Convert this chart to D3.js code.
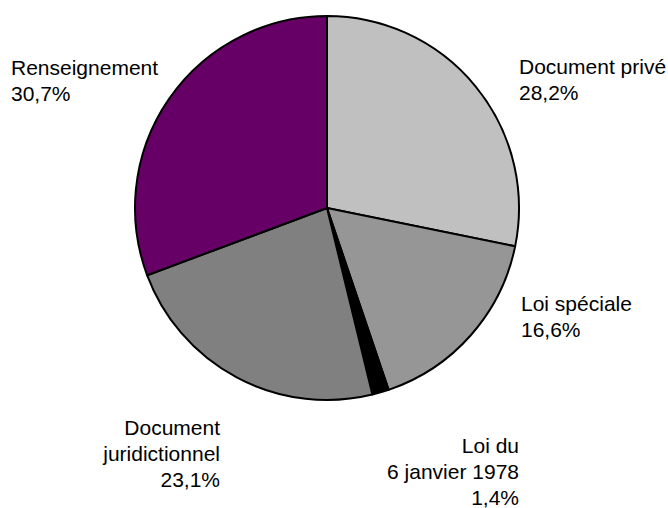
<!DOCTYPE html>
<html>
<head>
  <meta charset="utf-8">
  <script src="https://cdn.jsdelivr.net/npm/d3@7"></script>
  <style>
    body { margin: 0; background: white; }
    svg { display: block; }
    text { font-family: "Liberation Sans", Arial, sans-serif; font-size: 21px; fill: black; }
  </style>
</head>
<body>
  <script>
    // data (slices clockwise from 12 o'clock)
    const categories = [['Document privé'], ['Loi spéciale'], ['Loi du', '6 janvier 1978'], ['Document', 'juridictionnel'], ['Renseignement']]
    const values = [28.2, 16.6, 1.4, 23.1, 30.7]
    const colors = ['#c0c0c0', '#969696', '#000000', '#808080', '#660066']

    // label placement, relative to pie centre
    const labelPos = [
      { dx: 192, dy: -134, anchor: 'start' },
      { dx: 194, dy: 103, anchor: 'start' },
      { dx: 192, dy: 245, anchor: 'end' },
      { dx: -107, dy: 227, anchor: 'end' },
      { dx: -316, dy: -133, anchor: 'start' }
    ]

    const width = 668, height = 508
    const cx = 327, cy = 208, r = 192
    const lineH = 26

    const svg = d3.select('body').append('svg')
      .attr('width', width)
      .attr('height', height)

    const pie = d3.pie().sort(null).value(d => d)
    const arc = d3.arc().innerRadius(0).outerRadius(r)
    const arcs = pie(values)

    const g = svg.append('g').attr('transform', `translate(${cx},${cy})`)

    g.selectAll('path')
      .data(arcs)
      .join('path')
      .attr('d', arc)
      .attr('fill', (d, i) => colors[i])
      .attr('stroke', 'black')
      .attr('stroke-width', 2)
      .attr('stroke-linejoin', 'round')

    const fmt = v => d3.format('.1f')(v).replace('.', ',') + '%'

    arcs.forEach((d, i) => {
      const p = labelPos[i]
      const lines = categories[i].concat([fmt(values[i])])
      const t = g.append('text')
        .attr('text-anchor', p.anchor)
      lines.forEach((s, k) => {
        t.append('tspan')
          .attr('x', p.dx)
          .attr('y', p.dy + k * lineH)
          .text(s)
      })
    })
  </script>
</body>
</html>
